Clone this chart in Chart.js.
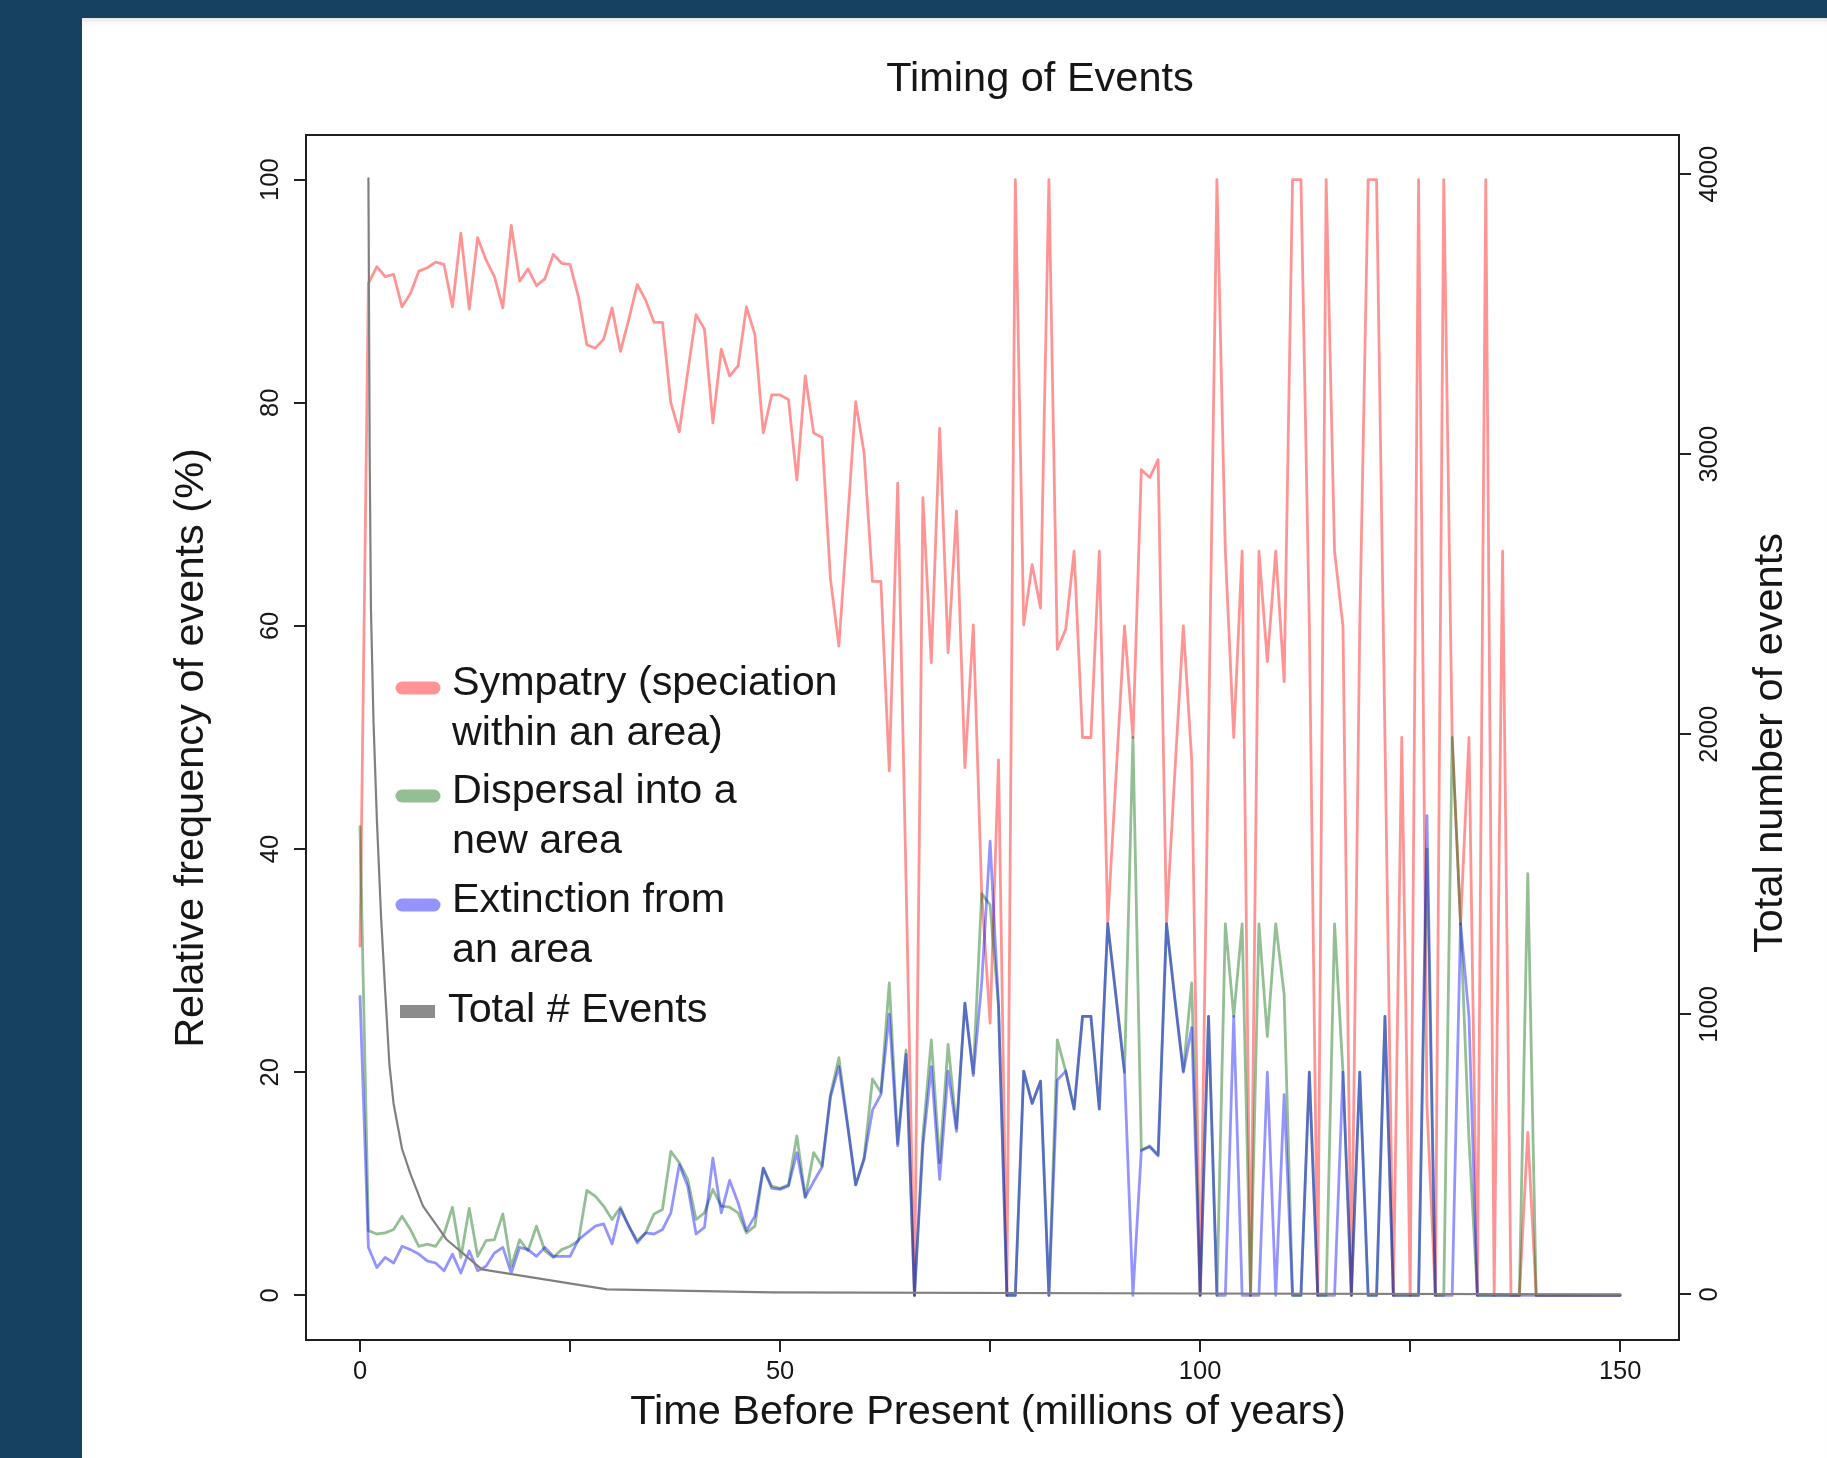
<!DOCTYPE html>
<html>
<head>
<meta charset="utf-8">
<script src="https://cdn.jsdelivr.net/npm/chart.js@4.4.1/dist/chart.umd.min.js"></script>
<style>
  html, body { margin: 0; padding: 0; width: 1827px; height: 1458px; overflow: hidden; background: #17425f; }
  #panel { position: absolute; left: 82px; top: 18px; right: 0; bottom: 0; background: #ffffff;
           box-shadow: inset 0 8px 7px -6px rgba(0,0,0,0.14); }
  #wrap { position: absolute; left: 0; top: 0; width: 1827px; height: 1458px; }
  canvas { display: block; }
</style>
</head>
<body>
<div id="panel"></div>
<div id="wrap"><canvas id="c" width="1827" height="1458"></canvas></div>
<script>
// ---------------- data ----------------
const years = [
  0,1,2,3,4,5,6,7,8,9,10,11,12,13,14,15,16,17,18,19,20,21,22,23,24,25,26,27,28,29,
  30,31,32,33,34,35,36,37,38,39,40,41,42,43,44,45,46,47,48,49,50,51,52,53,54,55,56,57,58,59,
  60,61,62,63,64,65,66,67,68,69,70,71,72,73,74,75,76,77,78,79,80,81,82,83,84,85,86,87,88,89,
  90,91,92,93,94,95,96,97,98,99,100,101,102,103,104,105,106,107,108,109,110,111,112,113,114,115,116,117,118,119,
  120,121,122,123,124,125,126,127,128,129,130,131,132,133,134,135,136,137,138,139,140,141,142,143,144,145,146,147,148,149,150
];

const sympatry = [
  31.3,90.7,92.2,91.3,91.5,88.6,89.8,91.8,92.1,92.6,
  92.4,88.6,95.2,88.4,94.8,92.8,91.3,88.5,95.9,90.9,
  92.0,90.5,91.1,93.3,92.5,92.4,89.5,85.2,84.9,85.7,
  88.5,84.6,87.5,90.6,89.2,87.2,87.2,80.0,77.4,82.7,
  87.9,86.6,78.2,84.8,82.4,83.3,88.6,86.1,77.3,80.7,
  80.7,80.3,73.1,82.4,77.3,76.9,64.2,58.2,69.0,80.1,
  75.5,64.0,64.0,47.0,72.8,37.0,0,71.5,56.7,77.7,
  57.6,70.3,47.3,60.1,36.0,24.4,48.0,0,100,60.1,
  65.5,61.6,100,57.9,59.7,66.7,50.0,50.0,66.7,33.4,
  46.7,60.0,50.0,74.0,73.3,74.9,33.4,47.0,60.0,48.0,
  0,50,100,66.7,50,66.7,0,66.7,56.8,66.7,
  55.0,100,100,60,0,100,66.7,60,0,60,
  100,100,50,0,50,0,100,17,0,100,
  50,33.3,50,0,100,0,66.7,0,0,14.6,
  0,0,0,0,0,0,0,0,0,0,0
];

const dispersal = [
  42.0,5.8,5.5,5.6,5.9,7.1,5.9,4.4,4.6,4.4,
  5.5,7.9,3.4,7.8,3.5,4.9,5.0,7.3,2.6,5.0,
  4.0,6.2,4.0,3.4,4.1,4.4,4.9,9.4,8.9,8.0,
  6.8,7.9,6.2,4.9,5.6,7.3,7.7,12.9,11.9,10.4,
  6.8,7.4,9.5,8.0,7.9,7.4,5.6,6.2,11.4,9.8,
  9.6,9.9,14.3,8.8,12.8,11.6,18.0,21.3,15.6,9.9,
  12.3,19.4,18.2,28.0,13.6,22.0,0,14.3,22.9,11.9,
  22.5,15.0,26.2,19.9,36.0,35.0,26.0,0,0,20.1,
  17.2,19.2,0,22.9,20.1,16.7,25,25,16.7,33.3,
  26.7,20,50,13.0,13.4,12.6,33.3,26.5,20.1,28,
  0,25,0,33.3,25,33.3,0,33.3,23.2,33.3,
  27,0,0,20,0,0,33.3,20,0,20,
  0,0,25,0,0,0,0,40,0,0,
  50,33.3,14,0,0,0,0,0,0,37.8,
  0,0,0,0,0,0,0,0,0,0,0
];

const extinction = [
  26.8,4.3,2.5,3.4,2.9,4.4,4.1,3.7,3.1,2.9,
  2.2,3.7,2.0,4.0,2.2,2.6,3.8,4.3,2.0,4.3,
  4.1,3.5,4.3,3.5,3.5,3.5,5.0,5.6,6.2,6.4,
  4.6,7.7,6.2,4.7,5.6,5.5,5.9,7.4,11.7,9.8,
  5.5,6.1,12.3,7.4,10.3,8.3,5.8,7.1,11.4,9.6,
  9.5,9.8,12.8,8.8,10.2,11.5,17.8,20.5,15.4,9.9,
  12.2,16.6,18.0,25.2,13.4,21.6,0,13.4,20.5,10.4,
  20.1,14.7,26.2,19.7,28.0,40.7,26.0,0,0,20.1,
  17.2,19.2,0,19.3,20.1,16.7,25,25,16.7,33.3,
  26.7,20,0,13.0,13.3,12.5,33.3,26.5,20.0,24,
  0,25,0,0,25,0,0,0,20,0,
  18,0,0,20,0,0,0,20,0,20,
  0,0,25,0,0,0,0,43,0,0,
  0,33.3,25,0,0,0,0,0,0,0,
  0,0,0,0,0,0,0,0,0,0,0
];

const totalYears  = [1.0, 1.15, 1.3, 1.6, 2.0, 2.5, 3.0, 3.5, 4.0, 5.0, 6.0, 7.5, 10.3, 14.5, 29.4, 49, 100, 150];
const totalEvents = [3985, 3000, 2450, 2050, 1700, 1350, 1080, 820, 680, 520, 430, 315, 196, 89, 18, 7, 3, 0];

const xTicks = [0, 25, 50, 75, 100, 125, 150];
const xTickLabels = ['0', '', '50', '', '100', '', '150'];
const yTicks = [0, 20, 40, 60, 80, 100];
const y2Ticks = [0, 1000, 2000, 3000, 4000];

const titleText = 'Timing of Events';
const xTitle = 'Time Before Present (millions of years)';
const yTitle = 'Relative frequency of events (%)';
const y2Title = 'Total number of events';
const legendLabels = [
  ['Sympatry (speciation', 'within an area)'],
  ['Dispersal into a', 'new area'],
  ['Extinction from', 'an area'],
  ['Total # Events']
];

// ---------------- styling ----------------
const FONT = '"Liberation Sans", Arial, Helvetica, sans-serif';
const C_RED = 'rgba(255,0,0,0.42)';
const C_GREEN = 'rgba(0,100,0,0.42)';
const C_BLUE = 'rgba(0,0,255,0.42)';
const C_GRAY = '#808080';
const INK = '#161616';

function pts(xs, ys) { return xs.map((x, i) => ({ x: x, y: ys[i] })); }

const overlay = {
  id: 'overlay',
  afterDraw(chart) {
    const { ctx, chartArea: ca, scales } = chart;
    ctx.save();
    // plot box
    ctx.strokeStyle = '#1e1e1e';
    ctx.lineWidth = 2;
    ctx.strokeRect(ca.left, ca.top, ca.right - ca.left, ca.bottom - ca.top);

    const rot = (txt, x, y) => {
      ctx.save(); ctx.translate(x, y); ctx.rotate(-Math.PI / 2); ctx.fillText(txt, 0, 0); ctx.restore();
    };
    ctx.fillStyle = INK;
    ctx.textAlign = 'center';
    ctx.textBaseline = 'middle';
    // rotated y tick labels
    ctx.font = '25.5px ' + FONT;
    yTicks.forEach(v => rot(String(v), 271, scales.y.getPixelForValue(v)));
    y2Ticks.forEach(v => rot(String(v), 1710, scales.y2.getPixelForValue(v)));
    // titles
    ctx.font = '41.5px ' + FONT;
    ctx.fillText(titleText, 1040, 80);
    ctx.fillText(xTitle, 988, 1413);
    rot(yTitle, 192, 748);
    rot(y2Title, 1771, 743);

    // legend
    ctx.font = '41.3px ' + FONT;
    ctx.textAlign = 'left';
    ctx.textBaseline = 'alphabetic';
    const items = [
      { color: C_RED, base: 695 },
      { color: C_GREEN, base: 803 },
      { color: C_BLUE, base: 912 },
      { color: C_GRAY, base: 1022, gray: true }
    ];
    items.forEach((it, i) => {
      if (it.gray) {
        ctx.fillStyle = '#8c8c8c';
        ctx.fillRect(400, 1005, 35, 13);
      } else {
        ctx.strokeStyle = it.color;
        ctx.lineWidth = 13;
        ctx.lineCap = 'round';
        ctx.beginPath(); ctx.moveTo(402, it.base - 7); ctx.lineTo(434, it.base - 7); ctx.stroke();
      }
      ctx.fillStyle = INK;
      const tx = it.gray ? 448 : 452;
      legendLabels[i].forEach((line, k) => ctx.fillText(line, tx, it.base + k * 50));
    });
    ctx.restore();
  }
};

const lineDs = (label, data, color, width, order, yAxisID) => ({
  label, data, borderColor: color, backgroundColor: color, borderWidth: width,
  pointRadius: 0, tension: 0, fill: false, order, yAxisID,
  borderJoinStyle: 'round', borderCapStyle: 'round'
});

const tickGrid = { display: true, drawOnChartArea: false, drawTicks: true, tickLength: 12, color: '#222', lineWidth: 2 };

new Chart(document.getElementById('c'), {
  type: 'line',
  data: {
    datasets: [
      lineDs('Sympatry (speciation within an area)', pts(years, sympatry), C_RED, 2.8, 4, 'y'),
      lineDs('Dispersal into a new area', pts(years, dispersal), C_GREEN, 2.8, 3, 'y'),
      lineDs('Extinction from an area', pts(years, extinction), C_BLUE, 2.8, 2, 'y'),
      lineDs('Total # Events', pts(totalYears, totalEvents), C_GRAY, 2.2, 1, 'y2')
    ]
  },
  options: {
    responsive: false,
    animation: false,
    devicePixelRatio: 1,
    events: [],
    layout: { padding: { top: 135, left: 0, right: 0, bottom: 0 } },
    plugins: { legend: { display: false }, title: { display: false }, tooltip: { enabled: false } },
    scales: {
      x: {
        type: 'linear', position: 'bottom', min: -6.43, max: 157.0,
        afterBuildTicks: (axis) => { axis.ticks = xTicks.map(v => ({ value: v })); },
        afterFit: (s) => { s.height = 118; },
        ticks: {
          autoSkip: false, maxRotation: 0, padding: 5, color: INK,
          font: { family: FONT, size: 25.5 },
          callback: (v) => { const i = xTicks.indexOf(v); return i >= 0 ? xTickLabels[i] : ''; }
        },
        grid: tickGrid,
        border: { display: false }
      },
      y: {
        type: 'linear', position: 'left', min: -4, max: 104,
        afterBuildTicks: (axis) => { axis.ticks = yTicks.map(v => ({ value: v })); },
        afterFit: (s) => { s.width = 306; },
        ticks: { display: false },
        grid: tickGrid,
        border: { display: false }
      },
      y2: {
        type: 'linear', position: 'right', min: -163, max: 4140,
        afterBuildTicks: (axis) => { axis.ticks = y2Ticks.map(v => ({ value: v })); },
        afterFit: (s) => { s.width = 148; },
        ticks: { display: false },
        grid: tickGrid,
        border: { display: false }
      }
    }
  },
  plugins: [overlay]
});
</script>
</body>
</html>
